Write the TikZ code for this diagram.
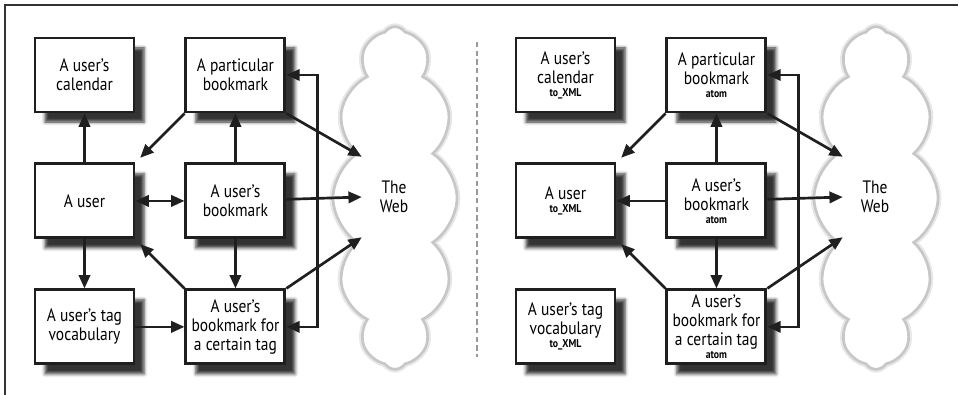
\documentclass[tikz,border=0pt]{standalone}
\usepackage{fontspec}
\setmainfont{PT Sans}[FakeStretch=0.86]
\usepackage{tikz}
\usetikzlibrary{arrows.meta,
                positioning,
                shapes.symbols,
                shadows.blur}

\newcommand{\boxtag}[1]{\\[-4.5pt]{\fontsize{8.5}{9}\selectfont\bfseries #1}}

\begin{document}
\begin{tikzpicture}[
        x=0.75pt, y=-0.75pt,
        node distance=36.75pt and 36.75pt,
        >={Triangle[length=10pt,width=8.5pt]},
        box/.style={draw=black!88, line width=2.2pt, fill=white, minimum width=74.25pt, minimum height=55.5pt, inner sep=2pt, align=center, font=\fontsize{13.5}{14.25}\selectfont,
            blur shadow={shadow xshift=7.5pt, shadow yshift=-7.5pt, shadow blur radius=2.5pt, shadow opacity=80}},
        link/.style={->, line width=2pt, draw=black!88},
        cloudy/.style={cloud, cloud puffs=12, cloud puff arc=115, aspect=0.36, minimum width=93pt, minimum height=257pt, fill=white, draw=black!22, line width=2pt, preaction={draw=black!9, line width=5pt}},
        webtext/.style={minimum width=48pt, minimum height=60pt, align=center, font=\fontsize{13.5}{14.25}\selectfont}
        ]
        \useasboundingbox (0,0) rectangle (959,395);

        % Frame and divider
        \draw[line width=1.5pt, black!80] (958,5) -- (5,5) -- (5,395);
        \draw[black!40, line width=0.8pt, dash pattern=on 4pt off 2.5pt] (477,42) -- (477,357);

        % Left: the web
        \node[cloudy] (cloud) at (395,198) {};
        \node[webtext] (web) at (394,197) {The\\Web};

        % Left: nodes
        \node[box] (calendar) at (84.5,75) {A user’s\\calendar};
        \node[box, right=of calendar] (particular) {A particular\\bookmark};
        \node[box, below=of calendar] (user) {A user};
        \node[box, right=of user] (bookmark) {A user’s\\bookmark};
        \node[box, below=of user] (vocab) {A user’s tag\\vocabulary};
        \node[box, right=of vocab] (tagged) {A user’s\\bookmark for\\a certain tag};

        % Left: arrows
        \draw[link] (user) -- (calendar);
        \draw[link, <->] (user) -- (bookmark);
        \draw[link] (user) -- (vocab);
        \draw[link] (bookmark) -- (particular);
        \draw[link] (bookmark) -- (tagged);
        \draw[link] (vocab) -- (tagged);
        \draw[link, shorten >=5pt] (particular.south west) -- (user.north east);
        \draw[link, shorten >=5pt] (tagged.north west) -- (user.south east);
        \draw[link] (particular.south east) -- (web.north west);
        \draw[link] (bookmark) -- (web.west);
        \draw[link] (tagged.north east) -- (web.south west);
        \draw[link, <->] (particular.east) -- ++(31,0) |- (tagged.east);

        % Right: the web
        \node[cloudy] (rcloud) at (876,198) {};
        \node[webtext] (rweb) at (875,197) {The\\Web};

        % Right: nodes
        \node[box] (rcalendar) at (565.5,75) {A user’s\\calendar\boxtag{to\_XML}};
        \node[box, right=of rcalendar] (rparticular) {A particular\\bookmark\boxtag{atom}};
        \node[box, below=of rcalendar] (ruser) {A user\boxtag{to\_XML}};
        \node[box, right=of ruser] (rbookmark) {A user’s\\bookmark\boxtag{atom}};
        \node[box, below=of ruser] (rvocab) {A user’s tag\\vocabulary\boxtag{to\_XML}};
        \node[box, right=of rvocab] (rtagged) {A user’s\\bookmark for\\a certain tag\boxtag{atom}};

        % Right: arrows
        \draw[link] (rbookmark) -- (ruser);
        \draw[link] (rbookmark) -- (rparticular);
        \draw[link] (rbookmark) -- (rtagged);
        \draw[link, shorten >=5pt] (rparticular.south west) -- (ruser.north east);
        \draw[link, shorten >=5pt] (rtagged.north west) -- (ruser.south east);
        \draw[link] (rparticular.south east) -- (rweb.north west);
        \draw[link] (rbookmark) -- (rweb.west);
        \draw[link] (rtagged.north east) -- (rweb.south west);
        \draw[link, <->] (rparticular.east) -- ++(31,0) |- (rtagged.east);

        \end{tikzpicture}
\end{document}
